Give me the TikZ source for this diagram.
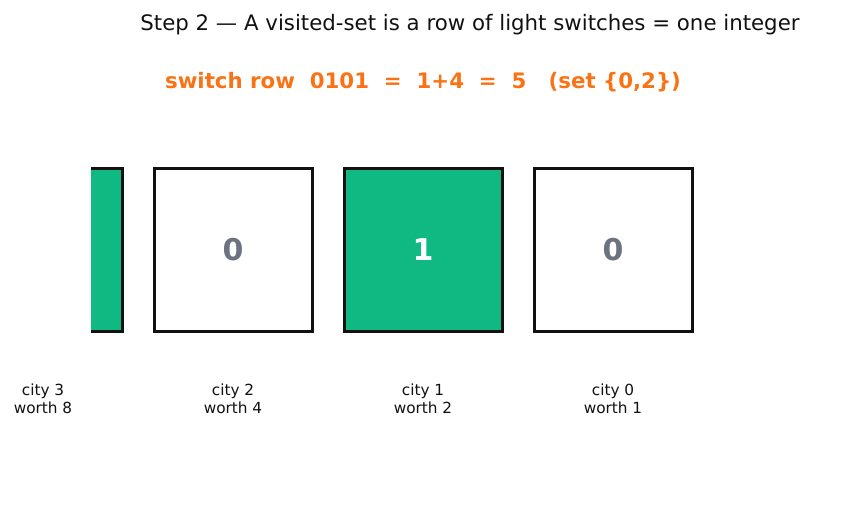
\documentclass[tikz,border=0pt]{standalone}
\usepackage{fontspec}
\setmainfont{DejaVu Sans}
\definecolor{ongreen}{HTML}{10B981}
\definecolor{hiorange}{HTML}{F97316}
\definecolor{offgray}{HTML}{6B7280}
\definecolor{edge}{HTML}{111111}
\begin{document}
\begin{tikzpicture}[x=1pt,y=-1pt,
  switchbox/.style={draw=edge,line width=3pt,minimum width=158pt,minimum height=163pt,inner sep=0pt,font=\fontsize{30}{34}\selectfont\bfseries},
  onbox/.style={switchbox,fill=ongreen,text=white},
  offbox/.style={switchbox,fill=white,text=offgray},
  citylabel/.style={font=\fontsize{15.3}{18}\selectfont,align=center,text=edge}]
\useasboundingbox (0,0) rectangle (864,508);
\node[font=\fontsize{21.3}{25}\selectfont,text=edge] (title) at (470,25) {Step 2 — A visited-set is a row of light switches = one integer};
\node[font=\fontsize{21.3}{25}\selectfont\bfseries,text=hiorange] (formula) at (423,82) {switch row\ \ 0101\ \ =\ \ 1+4\ \ =\ \ 5\ \ \ (set \{0,2\})};
\begin{scope}
\clip (91,0) rectangle (864,508);
\node[onbox] (b3) at (43,249.5) {1};
\end{scope}
\node[offbox] (b2) at (233,249.5) {0};
\node[onbox] (b1) at (423,249.5) {1};
\node[offbox] (b0) at (613,249.5) {0};
\node[citylabel] (l3) at (43,399) {city 3\\worth 8};
\node[citylabel] (l2) at (233,399) {city 2\\worth 4};
\node[citylabel] (l1) at (423,399) {city 1\\worth 2};
\node[citylabel] (l0) at (613,399) {city 0\\worth 1};
\end{tikzpicture}
\end{document}
